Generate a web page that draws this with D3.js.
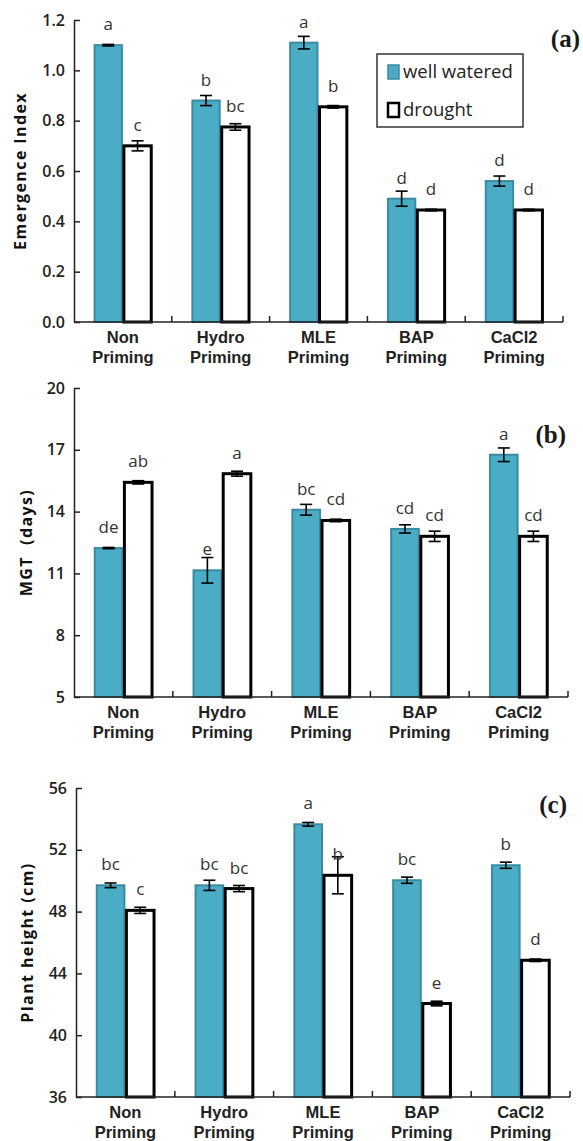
<!DOCTYPE html>
<html>
<head>
<meta charset="utf-8">
<script src="https://cdnjs.cloudflare.com/ajax/libs/d3/7.8.5/d3.min.js"></script>
<style>
  body { margin: 0; background: #fff; }
  svg { display: block; }
</style>
</head>
<body>
<script>
// categories and series
var categories = ["Non Priming", "Hydro Priming", "MLE Priming", "BAP Priming", "CaCl2 Priming"];
var series = ["well watered", "drought"];

// (a) emergence index
var emergenceWW = [1.10, 0.88, 1.11, 0.49, 0.56];
var emergenceWWErr = [0.003, 0.02, 0.025, 0.03, 0.02];
var emergenceDr = [0.70, 0.775, 0.855, 0.445, 0.445];
var emergenceDrErr = [0.02, 0.013, 0.005, 0.003, 0.003];
var emergenceWWLetters = ["a", "b", "a", "d", "d"];
var emergenceDrLetters = ["c", "bc", "b", "d", "d"];
var emergenceTicks = [0, 0.2, 0.4, 0.6, 0.8, 1.0, 1.2];

// (b) MGT
var mgtWW = [12.23, 11.15, 14.09, 13.16, 16.76];
var mgtWWErr = [0.03, 0.62, 0.26, 0.2, 0.33];
var mgtDr = [15.42, 15.84, 13.57, 12.8, 12.8];
var mgtDrErr = [0.08, 0.12, 0.06, 0.25, 0.25];
var mgtWWLetters = ["de", "e", "bc", "cd", "a"];
var mgtDrLetters = ["ab", "a", "cd", "cd", "cd"];
var mgtTicks = [5, 8, 11, 14, 17, 20];

// (c) plant height
var heightWW = [49.7, 49.7, 53.65, 50.03, 51.0];
var heightWWErr = [0.15, 0.33, 0.12, 0.2, 0.2];
var heightDr = [48.08, 49.49, 50.35, 42.05, 44.85];
var heightDrErr = [0.2, 0.2, 1.2, 0.15, 0.08];
var heightWWLetters = ["bc", "bc", "a", "bc", "b"];
var heightDrLetters = ["c", "bc", "b", "e", "d"];
var heightTicks = [36, 40, 44, 48, 52, 56];

var width = 583, height = 1141;
var tealFill = "#4bacc6", tealStroke = "#3a8ba1";
var sans = "'Open Sans', 'DejaVu Sans', sans-serif";
var arial = "'Liberation Sans', Arial, sans-serif";

var svg = d3.select("body").append("svg")
    .attr("width", width)
    .attr("height", height);

var panels = [
    {tag: "(a)", label: "Emergence Index", x0: 74, x1: 563, yTop: 20, yBot: 322,
     ticks: emergenceTicks, fmt: d3.format(".1f"),
     ww: emergenceWW, wwErr: emergenceWWErr, dr: emergenceDr, drErr: emergenceDrErr,
     wwL: emergenceWWLetters, drL: emergenceDrLetters, tagY: 47, labelX: 20, legend: true},
    {tag: "(b)", label: "MGT  (days)", x0: 74, x1: 568, yTop: 388, yBot: 697,
     ticks: mgtTicks, fmt: d3.format("d"),
     ww: mgtWW, wwErr: mgtWWErr, dr: mgtDr, drErr: mgtDrErr,
     wwL: mgtWWLetters, drL: mgtDrLetters, tagY: 443, tagX: 566, labelX: 26},
    {tag: "(c)", label: "Plant height (cm)", x0: 76, x1: 570, yTop: 788, yBot: 1097,
     ticks: heightTicks, fmt: d3.format("d"),
     ww: heightWW, wwErr: heightWWErr, dr: heightDr, drErr: heightDrErr,
     wwL: heightWWLetters, drL: heightDrLetters, tagY: 813, tagX: 567, labelX: 27}
];

panels.forEach(function(p) {
    var g = svg.append("g");

    var x = d3.scaleBand()
        .domain(categories)
        .range([p.x0, p.x1])
        .paddingInner(0.4)
        .paddingOuter(0.2);
    var xs = d3.scaleBand()
        .domain(series)
        .range([0, x.bandwidth()]);
    var y = d3.scaleLinear()
        .domain(d3.extent(p.ticks))
        .range([p.yBot, p.yTop]);

    var rows = [];
    categories.forEach(function(c, i) {
        rows.push({cat: c, s: series[0], v: p.ww[i], e: p.wwErr[i], l: p.wwL[i]});
        rows.push({cat: c, s: series[1], v: p.dr[i], e: p.drErr[i], l: p.drL[i]});
    });

    // bars
    g.selectAll("rect.bar")
        .data(rows)
        .join("rect")
        .attr("class", "bar")
        .attr("x", d => x(d.cat) + xs(d.s) + 1)
        .attr("y", d => y(d.v))
        .attr("width", xs.bandwidth() - 2)
        .attr("height", d => y.range()[0] - y(d.v))
        .attr("fill", d => d.s == "drought" ? "#fff" : tealFill)
        .attr("stroke", d => d.s == "drought" ? "#000" : tealStroke)
        .attr("stroke-width", d => d.s == "drought" ? 3 : 2);

    // error bars
    var eb = g.selectAll("g.err")
        .data(rows)
        .join("g")
        .attr("class", "err")
        .attr("stroke", "#000")
        .attr("stroke-width", 1.6);
    var cx = d => x(d.cat) + xs(d.s) + xs.bandwidth() / 2;
    eb.append("line")
        .attr("x1", cx).attr("x2", cx)
        .attr("y1", d => y(d.v + d.e)).attr("y2", d => y(d.v - d.e));
    eb.append("line")
        .attr("x1", d => cx(d) - 6).attr("x2", d => cx(d) + 6)
        .attr("y1", d => y(d.v + d.e)).attr("y2", d => y(d.v + d.e));
    eb.append("line")
        .attr("x1", d => cx(d) - 6).attr("x2", d => cx(d) + 6)
        .attr("y1", d => y(d.v - d.e)).attr("y2", d => y(d.v - d.e));

    // letters
    g.selectAll("text.letter")
        .data(rows)
        .join("text")
        .attr("class", "letter")
        .attr("x", cx)
        .attr("y", d => y(d.v) - 15)
        .attr("text-anchor", "middle")
        .style("font-family", sans)
        .style("font-size", "17px")
        .attr("fill", "#333")
        .text(d => d.l);

    // y axis
    var yAxis = d3.axisLeft(y)
        .tickValues(p.ticks)
        .tickFormat(p.fmt)
        .tickSizeInner(-6)
        .tickSizeOuter(0)
        .tickPadding(9);
    var ya = g.append("g")
        .attr("transform", `translate(${p.x0},0)`)
        .call(yAxis);
    ya.select(".domain").attr("stroke", "#222").attr("stroke-width", 1.5);
    ya.selectAll(".tick line").attr("stroke", "#222").attr("stroke-width", 1.5);
    ya.selectAll(".tick text")
        .style("font-family", sans)
        .style("font-size", "16px")
        .style("font-weight", "600")
        .attr("fill", "#222");

    // x axis line and category ticks
    g.append("line")
        .attr("x1", p.x0).attr("x2", p.x1)
        .attr("y1", p.yBot).attr("y2", p.yBot)
        .attr("stroke", "#222").attr("stroke-width", 1.5);
    var step = x.step();
    g.selectAll("line.xt")
        .data(categories)
        .join("line")
        .attr("class", "xt")
        .attr("x1", d => x(d) - step * 0.2 + step)
        .attr("x2", d => x(d) - step * 0.2 + step)
        .attr("y1", p.yBot).attr("y2", p.yBot - 6)
        .attr("stroke", "#222").attr("stroke-width", 1.5);

    // category labels (two lines)
    var xl = g.selectAll("text.xl")
        .data(categories)
        .join("text")
        .attr("class", "xl")
        .attr("text-anchor", "middle")
        .style("font-family", arial)
        .style("font-size", "16.5px")
        .style("font-weight", "700")
        .attr("fill", "#222");
    xl.append("tspan")
        .attr("x", d => x(d) + x.bandwidth() / 2)
        .attr("y", p.yBot + 21)
        .text(d => d.split(" ")[0]);
    xl.append("tspan")
        .attr("x", d => x(d) + x.bandwidth() / 2)
        .attr("y", p.yBot + 41)
        .text(d => d.split(" ")[1]);

    // y label
    g.append("text")
        .attr("transform", "rotate(-90)")
        .attr("x", -(p.yTop + p.yBot) / 2)
        .attr("y", p.labelX)
        .attr("dy", "0.35em")
        .attr("text-anchor", "middle")
        .style("font-family", sans)
        .style("font-size", "16px")
        .style("font-weight", "700")
        .style("letter-spacing", "1.4px")
        .style("white-space", "pre")
        .attr("fill", "#111")
        .text(p.label);

    // panel tag
    g.append("text")
        .attr("x", p.tagX || 580)
        .attr("y", p.tagY)
        .attr("text-anchor", "end")
        .style("font-family", "'Liberation Serif', 'DejaVu Serif', serif")
        .style("font-size", "25px")
        .style("font-weight", "700")
        .attr("fill", "#1a1a1a")
        .text(p.tag);

    if (p.legend) {
        var lg = g.append("g");
        lg.append("rect")
            .attr("x", 377).attr("y", 54)
            .attr("width", 146).attr("height", 73)
            .attr("fill", "#fff")
            .attr("stroke", "#333").attr("stroke-width", 1.5);
        series.forEach(function(s, i) {
            var yy = 72 + i * 38;
            lg.append("rect")
                .attr("x", 388).attr("y", yy - 7)
                .attr("width", 11).attr("height", 14)
                .attr("fill", i == 0 ? tealFill : "#fff")
                .attr("stroke", i == 0 ? tealStroke : "#000")
                .attr("stroke-width", i == 0 ? 1.5 : 2.5);
            lg.append("text")
                .attr("x", 403).attr("y", yy)
                .attr("dy", "0.35em")
                .style("font-family", sans)
                .style("font-size", "18.5px")
                .attr("fill", "#222")
                .text(s);
        });
    }
});
</script>
</body>
</html>
